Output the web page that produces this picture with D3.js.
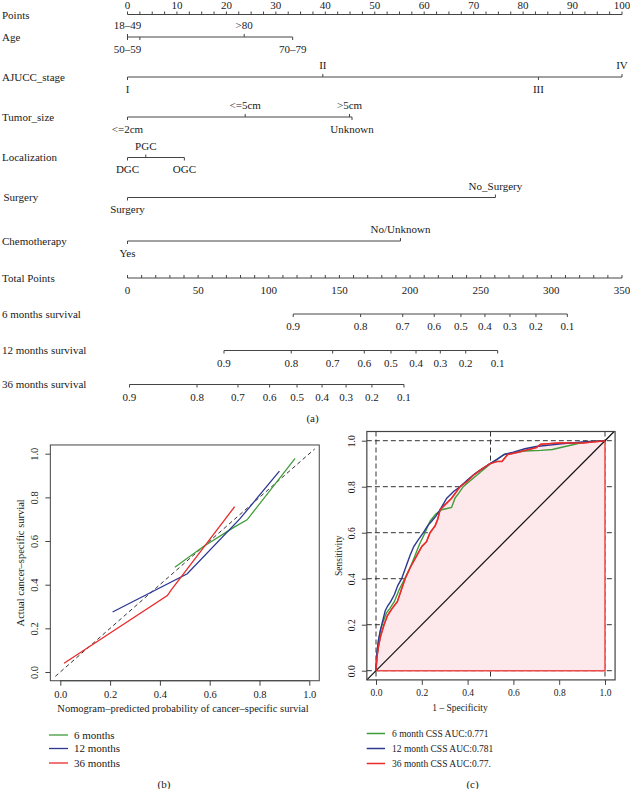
<!DOCTYPE html>
<html><head><meta charset="utf-8">
<script src="https://cdn.jsdelivr.net/npm/d3@7"></script>
<style>
body{margin:0;background:#fff}
svg text{font-family:"Liberation Serif","Times New Roman",serif;fill:#1a1a1a}
</style>
</head><body>
<svg id="chart" width="630" height="789"></svg>
<script>
// ---------------- DATA ----------------
// Nomogram (a)
const pointsTicks = d3.range(0, 101, 10);
const pointsMinor = d3.range(0, 100.1, 2.5);
const ageLabels = ["18–49", "50–59", null, ">80", "70–79"];
const agePoints = [0, 0, 2.5, 23.6, 33.4];
const stageLabels = ["I", "II", "III", "IV"];
const stagePoints = [0, 39.5, 83.1, 100];
const sizeLabels = ["<=2cm", "<=5cm", ">5cm", "Unknown"];
const sizePoints = [0, 23.8, 44.9, 45.4];
const locLabels = ["DGC", "PGC", "OGC"];
const locPoints = [0, 3.7, 11.5];
const surgLabels = ["Surgery", "No_Surgery"];
const surgPoints = [0, 74.4];
const chemoLabels = ["Yes", "No/Unknown"];
const chemoPoints = [0, 55.2];
const totalTicks = d3.range(0, 351, 50);
const totalMinor = d3.range(0, 351, 10);
const survProbs = [0.9, 0.8, 0.7, 0.6, 0.5, 0.4, 0.3, 0.2, 0.1];
const surv6Points = [117.3, 165.0, 194.8, 217.1, 236.0, 253.0, 270.7, 289.1, 311.3];
const surv12Points = [68.3, 115.9, 145.2, 167.6, 186.5, 204.2, 221.4, 239.4, 262.0];
const surv36Points = [1.4, 49.2, 78.2, 100.6, 120.0, 137.7, 154.7, 173.0, 195.7];

// Calibration (b)
const calibTicks = [0, 0.2, 0.4, 0.6, 0.8, 1.0];
const calib6X = [0.46, 0.575, 0.70, 0.75, 0.943];
const calib6Y = [0.48, 0.575, 0.665, 0.697, 0.979];
const calib12X = [0.21, 0.51, 0.72, 0.88];
const calib12Y = [0.275, 0.45, 0.70, 0.92];
const calib36X = [0.015, 0.43, 0.445, 0.70];
const calib36Y = [0.04, 0.35, 0.375, 0.757];
const calibLegend = ["6 months", "12 months", "36 months"];

// ROC (c)
const rocTicks = [0, 0.2, 0.4, 0.6, 0.8, 1.0];
const roc6Fpr = [0, 0.004, 0.01, 0.018, 0.03, 0.045, 0.06, 0.08, 0.1, 0.125, 0.15, 0.17, 0.19, 0.214, 0.236, 0.26, 0.287, 0.31, 0.33, 0.345, 0.36, 0.381, 0.41, 0.44, 0.47, 0.5, 0.53, 0.56, 0.6, 0.65, 0.72, 0.77, 0.84, 0.92, 1];
const roc6Tpr = [0, 0.06, 0.12, 0.17, 0.21, 0.25, 0.27, 0.3, 0.35, 0.4, 0.45, 0.5, 0.55, 0.6, 0.65, 0.68, 0.7, 0.705, 0.71, 0.75, 0.77, 0.8, 0.825, 0.85, 0.875, 0.9, 0.92, 0.94, 0.948, 0.955, 0.958, 0.962, 0.978, 0.996, 1];
const roc12Fpr = [0, 0.003, 0.01, 0.02, 0.03, 0.04, 0.05, 0.064, 0.08, 0.095, 0.112, 0.13, 0.148, 0.165, 0.185, 0.207, 0.225, 0.243, 0.26, 0.28, 0.309, 0.34, 0.367, 0.4, 0.43, 0.46, 0.498, 0.53, 0.56, 0.6, 0.65, 0.7, 0.8, 0.9, 1];
const roc12Tpr = [0, 0.07, 0.13, 0.18, 0.22, 0.26, 0.28, 0.3, 0.33, 0.37, 0.4, 0.45, 0.5, 0.54, 0.57, 0.6, 0.63, 0.65, 0.67, 0.7, 0.75, 0.78, 0.8, 0.83, 0.855, 0.875, 0.9, 0.92, 0.94, 0.95, 0.965, 0.975, 0.985, 0.995, 1];
const roc36Fpr = [0, 0.003, 0.01, 0.02, 0.035, 0.05, 0.07, 0.093, 0.11, 0.127, 0.15, 0.178, 0.2, 0.22, 0.236, 0.258, 0.27, 0.28, 0.3, 0.33, 0.367, 0.4, 0.425, 0.46, 0.498, 0.53, 0.55, 0.575, 0.62, 0.7, 0.72, 0.8, 0.9, 1];
const roc36Tpr = [0, 0.05, 0.1, 0.15, 0.2, 0.24, 0.27, 0.3, 0.35, 0.4, 0.45, 0.5, 0.54, 0.56, 0.6, 0.63, 0.66, 0.7, 0.72, 0.75, 0.8, 0.825, 0.85, 0.875, 0.9, 0.91, 0.91, 0.94, 0.95, 0.97, 0.985, 0.99, 0.99, 1];
const rocLegend = ["6 month CSS AUC:0.771", "12 month CSS AUC:0.781", "36 month CSS AUC:0.77."];

// ---------------- LAYOUT / STYLE ----------------
const C_GREEN = "#3f9d3a", C_BLUE = "#2c3892", C_RED = "#ea2b2b";
const seriesColors = [C_GREEN, C_BLUE, C_RED];
const axisCol = "#444";
const svg = d3.select("#chart");

// ================= (a) NOMOGRAM =================
const xP = d3.scaleLinear().domain([0, 100]).range([127.5, 622]);
const xT = d3.scaleLinear().domain([0, 350]).range([127.5, 622]);
const nom = svg.append("g").attr("font-size", 11);

function rowLabel(txt, y, x) {
  nom.append("text").attr("x", x || 2).attr("y", y).attr("dy", "0.35em").text(txt);
}
function hline(x1, x2, y) {
  nom.append("line").attr("x1", x1).attr("x2", x2).attr("y1", y).attr("y2", y)
    .attr("stroke", axisCol).attr("stroke-width", 1);
}
function tick(x, y, len) {
  nom.append("line").attr("x1", x).attr("x2", x).attr("y1", y).attr("y2", y + len)
    .attr("stroke", axisCol).attr("stroke-width", 1);
}
function varRow(name, labels, pts, sides, y, lx) {
  rowLabel(name, y, lx);
  hline(xP(d3.min(pts)), xP(d3.max(pts)), y);
  pts.forEach((p, i) => {
    const up = sides[i] === "up";
    tick(xP(p), y, up ? -3 : 3);
    if (labels[i]) {
      nom.append("text").attr("x", xP(p)).attr("y", y + (up ? -11.5 : 12))
        .attr("dy", "0.35em").attr("text-anchor", "middle").text(labels[i]);
    }
  });
}
function survRow(name, probs, pts, y) {
  rowLabel(name, y);
  hline(xT(d3.min(pts)), xT(d3.max(pts)), y);
  pts.forEach((p, i) => {
    tick(xT(p), y, 3);
    nom.append("text").attr("x", xT(p)).attr("y", y + 12.5).attr("dy", "0.35em")
      .attr("text-anchor", "middle").text(probs[i]);
  });
}

// Points axis
const yPts = 14.5;
rowLabel("Points", yPts + 0.5);
hline(xP(0), xP(100), yPts);
pointsMinor.forEach(v => tick(xP(v), yPts, -3));
pointsTicks.forEach(v => nom.append("text").attr("x", xP(v)).attr("y", yPts - 9.5)
  .attr("dy", "0.35em").attr("text-anchor", "middle").text(v));

varRow("Age", ageLabels, agePoints, ["up", "down", "down", "up", "down"], 37);
varRow("AJUCC_stage", stageLabels, stagePoints, ["down", "up", "down", "up"], 77);
varRow("Tumor_size", sizeLabels, sizePoints, ["down", "up", "up", "down"], 117);
varRow("Localization", locLabels, locPoints, ["down", "up", "down"], 157.5);
varRow("Surgery", surgLabels, surgPoints, ["down", "up"], 197.5, 3.5);
varRow("Chemotherapy", chemoLabels, chemoPoints, ["down", "up"], 241);

// Total points
const yTot = 278;
rowLabel("Total Points", yTot);
hline(xT(0), xT(350), yTot);
totalMinor.forEach(v => tick(xT(v), yTot, -3));
totalTicks.forEach(v => nom.append("text").attr("x", xT(v)).attr("y", yTot + 12.5)
  .attr("dy", "0.35em").attr("text-anchor", "middle").text(v));

survRow("6 months survival", survProbs, surv6Points, 314);
survRow("12 months survival", survProbs, surv12Points, 350.5);
survRow("36 months survival", survProbs, surv36Points, 384.5);

svg.append("text").attr("x", 312.5).attr("y", 418).attr("dy", "0.35em")
  .attr("text-anchor", "middle").attr("font-size", 11).text("(a)");

// ================= (b) CALIBRATION =================
const xC = d3.scaleLinear().domain([0, 1]).range([60.3, 309.3]);
const yC = d3.scaleLinear().domain([0, 1]).range([672, 453.7]);
const gb = svg.append("g");
const bx0 = xC(-0.04), bx1 = xC(1.04), by0 = yC(1.04), by1 = yC(-0.04);

const axB = gb.append("g").attr("transform", `translate(0,${by1})`)
  .call(d3.axisBottom(xC).tickValues(calibTicks).tickSize(5).tickSizeOuter(0).tickFormat(d3.format(".1f")));
axB.select(".domain").attr("d", `M${xC(0)},0H${xC(1)}`);
const ayB = gb.append("g").attr("transform", `translate(${bx0},0)`)
  .call(d3.axisLeft(yC).tickValues(calibTicks).tickSize(5).tickSizeOuter(0).tickFormat(d3.format(".1f")));
ayB.select(".domain").remove();
[axB, ayB].forEach(a => {
  a.selectAll("line,path").attr("stroke", axisCol);
  a.selectAll("text").attr("font-size", 10.5).attr("fill", "#1a1a1a")
    .attr("font-family", '"Liberation Serif",serif');
});
axB.selectAll("text").attr("dy", null).attr("y", 15).attr("dominant-baseline", "middle");
ayB.selectAll("text").attr("x", null).attr("dy", null).attr("text-anchor", "middle")
  .attr("dominant-baseline", "middle").attr("transform", "translate(-15,0) rotate(-90)");

gb.append("rect").attr("x", bx0).attr("y", by0).attr("width", bx1 - bx0).attr("height", by1 - by0)
  .attr("fill", "none").attr("stroke", axisCol).attr("stroke-width", 1);

gb.append("line").attr("x1", xC(-0.02)).attr("y1", yC(-0.02)).attr("x2", xC(1.022)).attr("y2", yC(1.022))
  .attr("stroke", "#333").attr("stroke-width", 1).attr("stroke-dasharray", "4,3");

const calibSeries = [[calib6X, calib6Y], [calib12X, calib12Y], [calib36X, calib36Y]];
const lineC = d3.line().x(d => xC(d[0])).y(d => yC(d[1]));
calibSeries.forEach((s, k) => {
  gb.append("path").attr("d", lineC(d3.zip(s[0], s[1]))).attr("fill", "none")
    .attr("stroke", seriesColors[k]).attr("stroke-width", 1.3);
});

gb.append("text").attr("x", 183).attr("y", 708.5).attr("dy", "0.35em").attr("text-anchor", "middle")
  .attr("font-size", 10.5).text("Nomogram–predicted probability of cancer–specific survial");
gb.append("text").attr("transform", `translate(20,${(by0 + by1) / 2}) rotate(-90)`).attr("dy", "0.35em")
  .attr("text-anchor", "middle").attr("font-size", 10.5).text("Actual cancer–specific survial");

const legBy = [735, 748.5, 763];
calibLegend.forEach((t, k) => {
  gb.append("line").attr("x1", 49).attr("x2", 68).attr("y1", legBy[k]).attr("y2", legBy[k])
    .attr("stroke", seriesColors[k]).attr("stroke-width", 1.3);
  gb.append("text").attr("x", 74).attr("y", legBy[k]).attr("dy", "0.35em").attr("font-size", 11).text(t);
});
svg.append("text").attr("x", 164).attr("y", 784).attr("dy", "0.35em")
  .attr("text-anchor", "middle").attr("font-size", 11).text("(b)");

// ================= (c) ROC =================
const xR = d3.scaleLinear().domain([0, 1]).range([376, 605]);
const yR = d3.scaleLinear().domain([0, 1]).range([670.7, 440.7]);
const gc = svg.append("g");
const cx0 = xR(-0.04), cx1 = xR(1.044), cy0 = yR(1.04), cy1 = yR(-0.04);

rocTicks.forEach(v => {
  gc.append("line").attr("x1", cx0).attr("x2", cx1).attr("y1", yR(v)).attr("y2", yR(v))
    .attr("stroke", "#333").attr("stroke-width", 1).attr("stroke-dasharray", "5,3");
});
[0, 0.5, 1].forEach(v => {
  gc.append("line").attr("x1", xR(v)).attr("x2", xR(v)).attr("y1", cy0).attr("y2", cy1)
    .attr("stroke", "#333").attr("stroke-width", 1).attr("stroke-dasharray", "5,3");
});

const areaPts = d3.zip(roc36Fpr, roc36Tpr).concat([[1, 0], [0, 0]]);
gc.append("path").attr("d", d3.line().x(d => xR(d[0])).y(d => yR(d[1]))(areaPts) + "Z")
  .attr("fill", "#fde8ec").attr("stroke", "#ee4b4b").attr("stroke-width", 1.5);

gc.append("line").attr("x1", xR(-0.04)).attr("y1", yR(-0.04)).attr("x2", xR(1.04)).attr("y2", yR(1.04))
  .attr("stroke", "#111").attr("stroke-width", 1.2);

const lineR = d3.line().x(d => xR(d[0])).y(d => yR(d[1]));
const rocSeries = [[roc6Fpr, roc6Tpr], [roc12Fpr, roc12Tpr], [roc36Fpr, roc36Tpr]];
rocSeries.forEach((s, k) => {
  gc.append("path").attr("d", lineR(d3.zip(s[0], s[1]))).attr("fill", "none")
    .attr("stroke", seriesColors[k]).attr("stroke-width", 1.4);
});

gc.append("rect").attr("x", cx0).attr("y", cy0).attr("width", cx1 - cx0).attr("height", cy1 - cy0)
  .attr("fill", "none").attr("stroke", axisCol).attr("stroke-width", 1.2);

const axC = gc.append("g").attr("transform", `translate(0,${cy1})`)
  .call(d3.axisBottom(xR).tickValues(rocTicks).tickSize(5).tickSizeOuter(0).tickFormat(d3.format(".1f")));
axC.select(".domain").remove();
const ayC = gc.append("g").attr("transform", `translate(${cx0},0)`)
  .call(d3.axisLeft(yR).tickValues(rocTicks).tickSize(5).tickSizeOuter(0).tickFormat(d3.format(".1f")));
ayC.select(".domain").remove();
[axC, ayC].forEach(a => {
  a.selectAll("line").attr("stroke", axisCol);
  a.selectAll("text").attr("font-size", 9.5).attr("fill", "#1a1a1a")
    .attr("font-family", '"Liberation Serif",serif');
});
axC.selectAll("text").attr("dy", null).attr("y", 13.5).attr("dominant-baseline", "middle");
ayC.selectAll("text").attr("x", null).attr("dy", null).attr("text-anchor", "middle")
  .attr("dominant-baseline", "middle").attr("transform", "translate(-14,0) rotate(-90)");

gc.append("text").attr("x", 460).attr("y", 708).attr("dy", "0.35em").attr("text-anchor", "middle")
  .attr("font-size", 9.5).text("1 – Specificity");
gc.append("text").attr("transform", `translate(338.8,${(cy0 + cy1) / 2}) rotate(-90)`).attr("dy", "0.35em")
  .attr("text-anchor", "middle").attr("font-size", 9.5).text("Sensitivity");

const legCy = [733.5, 748.5, 763.5];
rocLegend.forEach((t, k) => {
  gc.append("line").attr("x1", 366.7).attr("x2", 385).attr("y1", legCy[k]).attr("y2", legCy[k])
    .attr("stroke", seriesColors[k]).attr("stroke-width", 1.5);
  gc.append("text").attr("x", 392).attr("y", legCy[k]).attr("dy", "0.35em").attr("font-size", 9.5).text(t);
});
svg.append("text").attr("x", 472.5).attr("y", 784).attr("dy", "0.35em")
  .attr("text-anchor", "middle").attr("font-size", 11).text("(c)");
</script>
</body></html>
